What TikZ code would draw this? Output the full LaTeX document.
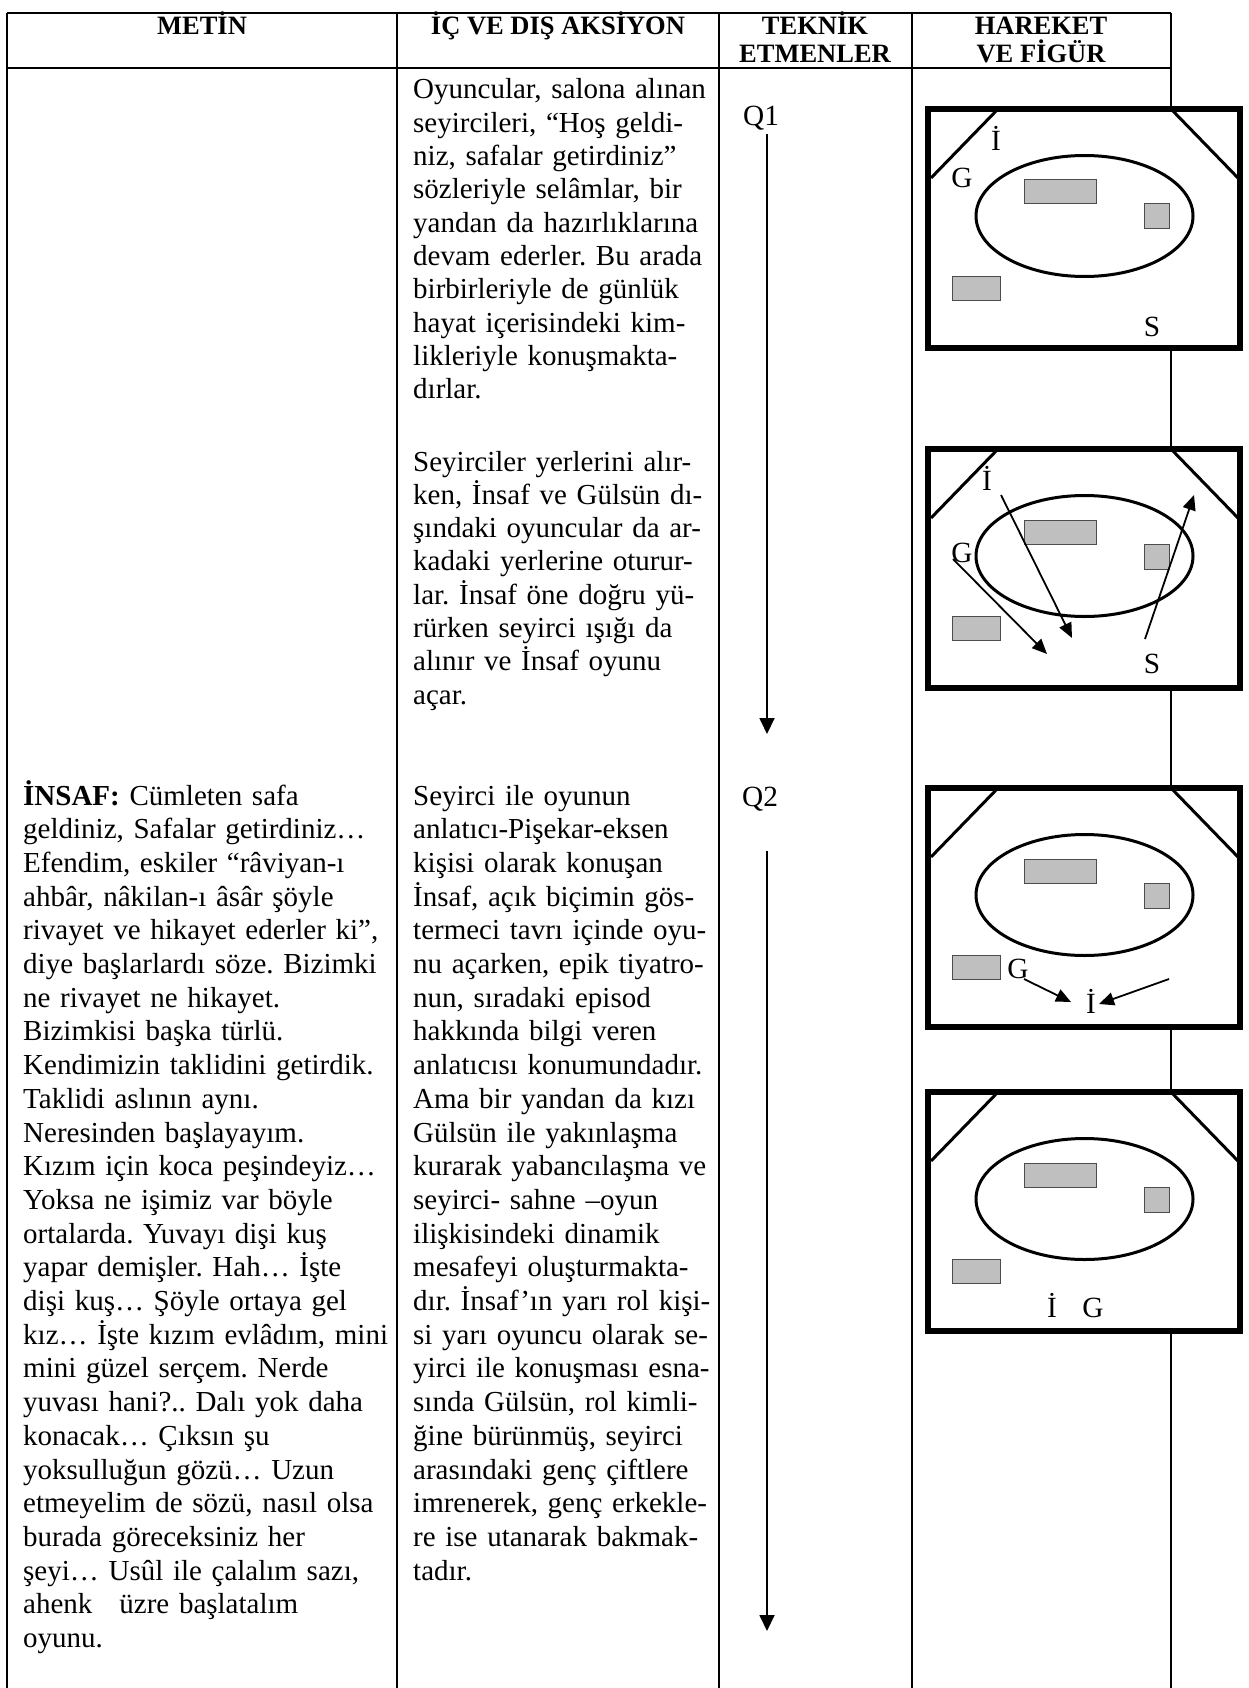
\documentclass[tikz,border=0pt]{standalone}
\usepackage{fontspec}
\setmainfont{Liberation Serif}
\usetikzlibrary{arrows.meta}
\newcommand\stagebox[1]{%
  \draw[frame] (928,#1) rectangle (1240,{#1+239});
  \draw[cornerline] (998,#1) -- (931,{#1+69});
  \draw[cornerline] (1171,#1) -- (1238,{#1+69});
  \draw[ring] (1084.5,{#1+107}) ellipse [x radius=108.5pt, y radius=60.5pt];
  \draw[prop] (1024,{#1+71}) rectangle (1096,{#1+95});
  \draw[prop] (1144,{#1+95}) rectangle (1169,{#1+120});
  \draw[prop] (952,{#1+167}) rectangle (1000,{#1+191});
}
\begin{document}
\frenchspacing
\begin{tikzpicture}[x=1pt,y=-1pt,
  rule/.style={line width=2.2pt},
  body/.style={inner sep=0pt, anchor=base west, text width=420pt, align=left,
    font=\frenchspacing\fontsize{29}{33.7}\selectfont},
  bodytight/.style={body, font=\frenchspacing\fontsize{29}{33.3}\selectfont},
  head/.style={inner sep=0pt, anchor=base, font=\bfseries\fontsize{26.5}{29}\selectfont},
  lbl/.style={inner sep=0pt, anchor=base, font=\fontsize{29.3}{33.6}\selectfont},
  cue/.style={-{Triangle[length=16pt,width=15pt]}, line width=1.8pt},
  move/.style={-{Triangle[length=15pt,width=13pt]}, line width=1.8pt},
  frame/.style={line width=5.5pt, fill=white},
  cornerline/.style={line width=3pt},
  ring/.style={line width=3pt},
  prop/.style={fill=gray!50, draw=black!70, line width=1pt}
]
\fill[white] (0,0) rectangle (1248,1688);
\useasboundingbox (0,0) rectangle (1248,1688);

% table rules
\draw[rule] (7,13) -- (1171,13);
\draw[rule] (7,68) -- (1171,68);
\foreach \xx in {7,397,719,912,1171} \draw[rule] (\xx,13) -- (\xx,1688);

% header
\node[head] (h1) at (202,35) {METİN};
\node[head] (h2) at (558,35) {İÇ VE DIŞ AKSİYON};
\node[head] (h3a) at (815,35) {TEKNİK};
\node[head] (h3b) at (815,63) {ETMENLER};
\node[head] (h4a) at (1041,35) {HAREKET};
\node[head] (h4b) at (1041,63) {VE FİGÜR};

% column 2, first section
\node[bodytight] (act1) at (413,99) {Oyuncular, salona alınan\\
seyircileri, “Hoş geldi-\\
niz, safalar getirdiniz”\\
sözleriyle selâmlar, bir\\
yandan da hazırlıklarına\\
devam ederler. Bu arada\\
birbirleriyle de günlük\\
hayat içerisindeki kim-\\
likleriyle konuşmakta-\\
dırlar.};
\node[bodytight] (act2) at (413,471) {Seyirciler yerlerini alır-\\
ken, İnsaf ve Gülsün dı-\\
şındaki oyuncular da ar-\\
kadaki yerlerine oturur-\\
lar. İnsaf öne doğru yü-\\
rürken seyirci ışığı da\\
alınır ve İnsaf oyunu\\
açar.};

% second section
\node[body] (metin) at (23,805) {\textbf{İNSAF:} Cümleten safa\\
geldiniz, Safalar getirdiniz…\\
Efendim, eskiler “râviyan-ı\\
ahbâr, nâkilan-ı âsâr şöyle\\
rivayet ve hikayet ederler ki”,\\
diye başlarlardı söze. Bizimki\\
ne rivayet ne hikayet.\\
Bizimkisi başka türlü.\\
Kendimizin taklidini getirdik.\\
Taklidi aslının aynı.\\
Neresinden başlayayım.\\
Kızım için koca peşindeyiz…\\
Yoksa ne işimiz var böyle\\
ortalarda. Yuvayı dişi kuş\\
yapar demişler. Hah… İşte\\
dişi kuş… Şöyle ortaya gel\\
kız… İşte kızım evlâdım, mini\\
mini güzel serçem. Nerde\\
yuvası hani?.. Dalı yok daha\\
konacak… Çıksın şu\\
yoksulluğun gözü… Uzun\\
etmeyelim de sözü, nasıl olsa\\
burada göreceksiniz her\\
şeyi… Usûl ile çalalım sazı,\\
ahenk\hspace{27pt}üzre başlatalım\\
oyunu.};
\node[body] (act3) at (413,805) {Seyirci ile oyunun\\
anlatıcı-Pişekar-eksen\\
kişisi olarak konuşan\\
İnsaf, açık biçimin gös-\\
termeci tavrı içinde oyu-\\
nu açarken, epik tiyatro-\\
nun, sıradaki episod\\
hakkında bilgi veren\\
anlatıcısı konumundadır.\\
Ama bir yandan da kızı\\
Gülsün ile yakınlaşma\\
kurarak yabancılaşma ve\\
seyirci- sahne –oyun\\
ilişkisindeki dinamik\\
mesafeyi oluşturmakta-\\
dır. İnsaf’ın yarı rol kişi-\\
si yarı oyuncu olarak se-\\
yirci ile konuşması esna-\\
sında Gülsün, rol kimli-\\
ğine bürünmüş, seyirci\\
arasındaki genç çiftlere\\
imrenerek, genç erkekle-\\
re ise utanarak bakmak-\\
tadır.};

% technical cues
\node[lbl, anchor=base west] (q1) at (743,126) {Q1};
\coordinate (q1s) at (767,134);
\coordinate (q1e) at (767,734);
\draw[cue] (q1s) -- (q1e);
\node[lbl, anchor=base west] (q2) at (742,806) {Q2};
\coordinate (q2s) at (767,851);
\coordinate (q2e) at (767,1631);
\draw[cue] (q2s) -- (q2e);

% stage boxes
\stagebox{109}
\node[lbl] (b1I) at (996,151) {İ};
\node[lbl] (b1G) at (962,188) {G};
\node[lbl] (b1S) at (1152,336) {S};

\stagebox{449}
\node[lbl] (b2I) at (987,490) {İ};
\node[lbl] (b2G) at (962,562) {G};
\node[lbl] (b2S) at (1152,673) {S};
\coordinate (b2Is) at (1001,495);
\coordinate (b2Ie) at (1072,638);
\coordinate (b2Gs) at (953,559);
\coordinate (b2Ge) at (1047,654);
\coordinate (b2Ss) at (1145,639);
\coordinate (b2Se) at (1194,495);
\draw[move] (b2Is) -- (b2Ie);
\draw[move] (b2Gs) -- (b2Ge);
\draw[move] (b2Ss) -- (b2Se);

\stagebox{788}
\node[lbl] (b3G) at (1018,978) {G};
\node[lbl] (b3I) at (1091,1013) {İ};
\coordinate (b3Gs) at (1024,979);
\coordinate (b3Ge) at (1071,1002);
\coordinate (b3Rs) at (1169,979);
\coordinate (b3Re) at (1099,1004);
\draw[move] (b3Gs) -- (b3Ge);
\draw[move] (b3Rs) -- (b3Re);

\stagebox{1092}
\node[lbl] (b4I) at (1052,1317) {İ};
\node[lbl] (b4G) at (1093,1317) {G};
\end{tikzpicture}
\end{document}
